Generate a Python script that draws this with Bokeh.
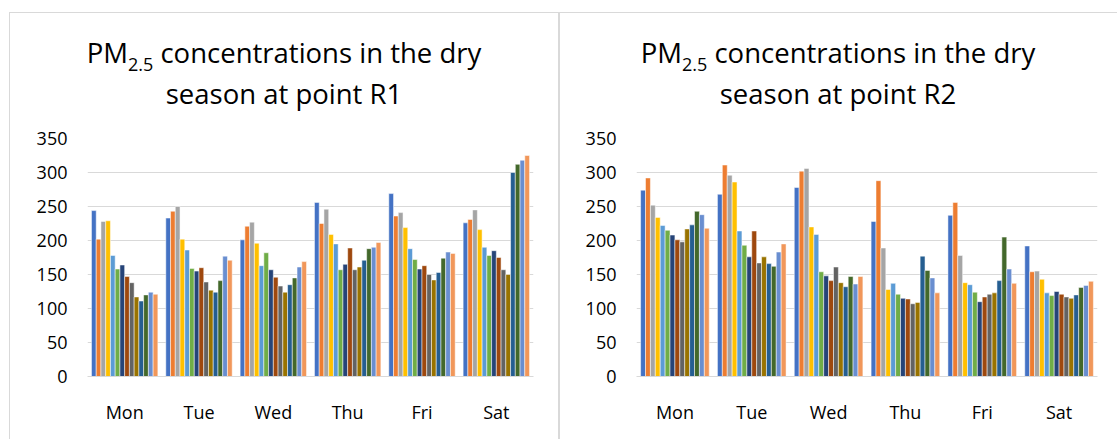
from bokeh.plotting import figure
from bokeh.models import ColumnDataSource, FactorRange, Range1d, FixedTicker, Div
from bokeh.transform import dodge
from bokeh.layouts import row, column
from bokeh.embed import file_html
from bokeh.resources import INLINE

DAYS = ["Mon", "Tue", "Wed", "Thu", "Fri", "Sat"]
Y_TICKS = [0, 50, 100, 150, 200, 250, 300, 350]

# R1: 14 series per day
R1_MON = [244, 202, 228, 229, 178, 158, 164, 147, 138, 117, 111, 120, 124, 121]
R1_TUE = [233, 243, 250, 202, 186, 159, 155, 160, 139, 127, 124, 141, 177, 171]
R1_WED = [201, 221, 227, 196, 163, 182, 157, 146, 133, 124, 135, 145, 161, 169]
R1_THU = [256, 225, 246, 209, 195, 157, 165, 189, 157, 161, 171, 188, 190, 197]
R1_FRI = [269, 236, 241, 219, 188, 172, 158, 163, 150, 142, 153, 174, 183, 181]
R1_SAT = [226, 231, 245, 216, 190, 178, 185, 175, 157, 150, 300, 312, 318, 325]

# R2: 14 series per day
R2_MON = [274, 292, 252, 234, 222, 215, 208, 201, 198, 217, 223, 243, 238, 218]
R2_TUE = [268, 311, 296, 286, 214, 193, 176, 214, 167, 176, 166, 162, 183, 195]
R2_WED = [278, 302, 306, 220, 209, 154, 148, 141, 161, 138, 132, 147, 136, 147]
R2_THU = [228, 288, 189, 128, 137, 121, 115, 114, 107, 109, 177, 156, 145, 123]
R2_FRI = [237, 256, 178, 138, 135, 124, 110, 117, 121, 123, 141, 205, 158, 137]
R2_SAT = [192, 154, 155, 143, 123, 119, 125, 121, 117, 115, 120, 131, 134, 140]

COLORS = ["#4472C4", "#ED7D31", "#A5A5A5", "#FFC000", "#5B9BD5", "#70AD47",
          "#264478", "#9E480E", "#636363", "#997300", "#255E91", "#43682B",
          "#698ED0", "#F1975A"]

FONT = "Open Sans"
N = len(COLORS)
BAR_W = 0.0638
PANEL_H = 427
TITLE_H = 110


def make_panel(day_rows, point, width, min_left, min_right, shadow):
    fig_h = PANEL_H - TITLE_H
    top_border = 16
    frame_h = 238
    bottom_border = fig_h - top_border - frame_h

    data = {"day": DAYS}
    for i in range(N):
        data["s%d" % i] = [r[i] for r in day_rows]
    src = ColumnDataSource(data)

    p = figure(width=width, height=fig_h, x_range=FactorRange(factors=DAYS, range_padding=0),
               y_range=Range1d(0, 350), output_backend="svg", toolbar_location=None,
               min_border_left=min_left, min_border_right=min_right,
               min_border_top=top_border, min_border_bottom=bottom_border)
    p.title.visible = False
    p.border_fill_color = None
    p.background_fill_color = None
    p.outline_line_color = None

    for i in range(N):
        off = (i - (N - 1) / 2) * BAR_W
        p.vbar(x=dodge("day", off, range=p.x_range), top="s%d" % i, width=BAR_W,
               source=src, fill_color=COLORS[i], line_color="white", line_width=0.5)

    p.yaxis.ticker = FixedTicker(ticks=Y_TICKS)
    p.ygrid.ticker = FixedTicker(ticks=Y_TICKS)
    p.xgrid.grid_line_color = None
    p.ygrid.grid_line_color = "#D9D9D9"
    p.ygrid.grid_line_width = 1
    for ax in (p.xaxis, p.yaxis):
        ax.major_tick_line_color = None
        ax.minor_tick_line_color = None
        ax.major_tick_out = 0
        ax.major_tick_in = 0
        ax.major_label_text_font = FONT
        ax.major_label_text_font_size = "18px"
        ax.major_label_text_color = "#000000"
    p.yaxis.axis_line_color = None
    p.yaxis.major_label_standoff = 20
    p.xaxis.axis_line_color = "#D9D9D9"
    p.xaxis.axis_line_width = 1
    p.xaxis.major_label_standoff = 23

    html = ('<div style="width:%dpx;text-align:center;font-family:\'Open Sans\';'
            'font-size:27.5px;line-height:37px;color:#000;padding-top:22px;">'
            'PM<span style="font-size:18px;position:relative;top:8px;">2.5</span>'
            ' concentrations in the dry<br>season at point %s</div>') % (width, point)
    div = Div(text=html, width=width, height=TITLE_H, margin=0)

    col = column(div, p, spacing=0)
    col.styles = {"box-shadow": shadow}
    return col


c1 = make_panel([R1_MON, R1_TUE, R1_WED, R1_THU, R1_FRI, R1_SAT], "R1",
                width=550, min_left=78, min_right=26,
                shadow="inset 1px 1px 0 0 #D9D9D9, inset -1px 0 0 0 #D9D9D9")
c2 = make_panel([R2_MON, R2_TUE, R2_WED, R2_THU, R2_FRI, R2_SAT], "R2",
                width=558, min_left=77, min_right=20,
                shadow="inset 1px 1px 0 0 #D9D9D9")

layout = row(c1, c2, spacing=0)
layout.margin = (12, 0, 0, 9)

open("out.html", "w").write(file_html(layout, INLINE))
